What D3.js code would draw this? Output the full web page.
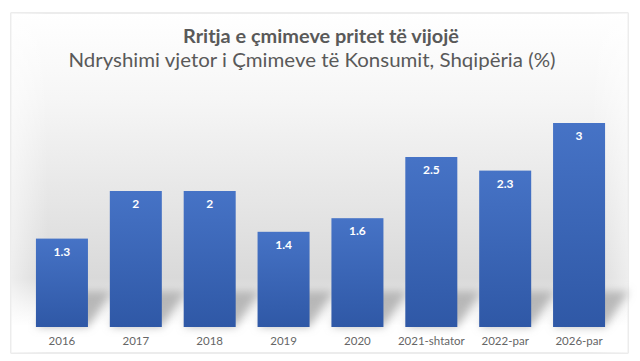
<!DOCTYPE html>
<html>
<head>
<meta charset="utf-8">
<script src="https://cdn.jsdelivr.net/npm/d3@7"></script>
<style>
html,body{margin:0;padding:0;background:#fff;}
svg{display:block;}
</style>
</head>
<body>
<svg id="chart" width="640" height="361"></svg>
<script>
const categories = ["2016","2017","2018","2019","2020","2021-shtator","2022-par","2026-par"];
const values = [1.3, 2, 2, 1.4, 1.6, 2.5, 2.3, 3];
const valueLabels = ["1.3","2","2","1.4","1.6","2.5","2.3","3"];
const title = "Rritja e çmimeve pritet të vijojë";
const subtitle = "Ndryshimi vjetor i Çmimeve të Konsumit, Shqipëria (%)";

const svg = d3.select("#chart");
const W = 640, H = 361;
const frame = {x: 11, y: 13, w: 617, h: 340};
const defs = svg.append("defs");
const FONT = "Lato, 'Open Sans', sans-serif";

const bg = defs.append("linearGradient").attr("id","bg").attr("x1",0).attr("y1",0).attr("x2",0).attr("y2",1);
[[0,"#ffffff"],[0.25,"#f6f6f6"],[0.55,"#e6e6e6"],[0.78,"#d9d9d9"],[0.86,"#f0f0f0"],[0.92,"#ffffff"],[1,"#ffffff"]]
  .forEach(([o,c]) => bg.append("stop").attr("offset",o).attr("stop-color",c));
const side = defs.append("linearGradient").attr("id","side").attr("x1",0).attr("y1",0).attr("x2",1).attr("y2",0);
[[0,"#ffffff",0.55],[0.06,"#ffffff",0],[0.94,"#ffffff",0],[1,"#ffffff",0.55]]
  .forEach(([o,c,a]) => side.append("stop").attr("offset",o).attr("stop-color",c).attr("stop-opacity",a));

const barG = defs.append("linearGradient").attr("id","barg").attr("x1",0).attr("y1",0).attr("x2",0).attr("y2",1);
[[0,"#4673c6"],[1,"#2f58a6"]].forEach(([o,c]) => barG.append("stop").attr("offset",o).attr("stop-color",c));

const blur = defs.append("filter").attr("id","blur").attr("x","-50%").attr("y","-50%").attr("width","200%").attr("height","200%");
blur.append("feGaussianBlur").attr("stdDeviation",4);

svg.append("rect").attr("x",frame.x).attr("y",frame.y).attr("width",frame.w).attr("height",frame.h)
  .attr("fill","url(#bg)").attr("stroke","#d9d9d9").attr("stroke-width",1);
svg.append("rect").attr("x",frame.x).attr("y",frame.y).attr("width",frame.w).attr("height",frame.h)
  .attr("fill","url(#side)");

const x = d3.scaleBand().domain(categories).range([25, 616]).paddingInner(0.296).paddingOuter(0.148);
const y = d3.scaleLinear().domain([0, 3]).range([327, 123]);

const data = categories.map((c,i) => ({c, v: values[i], l: valueLabels[i]}));

svg.append("g").attr("filter","url(#blur)").selectAll("path").data(data).join("path")
  .attr("d", d => {
    const x0 = x(d.c), x1 = x(d.c) + x.bandwidth(), yb = y(0);
    const h = Math.min(36, y(0) - y(d.v));
    return `M${x0},${yb} L${x1},${yb} L${x1+24},${yb-h} L${x0+24},${yb-h} Z`;
  })
  .attr("fill","#a6a6a6").attr("opacity",0.75);

svg.append("g").selectAll("rect").data(data).join("rect")
  .attr("x", d => x(d.c)).attr("y", d => y(d.v))
  .attr("width", x.bandwidth()).attr("height", d => y(0) - y(d.v))
  .attr("fill","url(#barg)");

svg.append("g").selectAll("text").data(data).join("text")
  .attr("x", d => x(d.c) + x.bandwidth()/2).attr("y", d => y(d.v) + 17)
  .attr("text-anchor","middle").attr("fill","#ffffff")
  .attr("font-family",FONT).attr("font-weight","bold").attr("font-size",12)
  .text(d => d.l);

const xAxis = svg.append("g").attr("transform",`translate(0,${y(0)})`)
  .call(d3.axisBottom(x).tickSize(0).tickPadding(10));
xAxis.select(".domain").remove();
xAxis.selectAll("text").attr("fill","#666666").attr("font-family",FONT).attr("font-size",11.5);

svg.append("text").attr("x", W/2 + 1).attr("y", 43).attr("text-anchor","middle")
  .attr("fill","#595959").attr("font-family",FONT).attr("font-weight","bold").attr("font-size",18)
  .attr("textLength",276).attr("lengthAdjust","spacingAndGlyphs")
  .text(title);
svg.append("text").attr("x", W/2 - 8).attr("y", 67).attr("text-anchor","middle")
  .attr("fill","#595959").attr("font-family",FONT).attr("font-size",19.5)
  .attr("textLength",487).attr("lengthAdjust","spacingAndGlyphs")
  .text(subtitle);
</script>
</body>
</html>
